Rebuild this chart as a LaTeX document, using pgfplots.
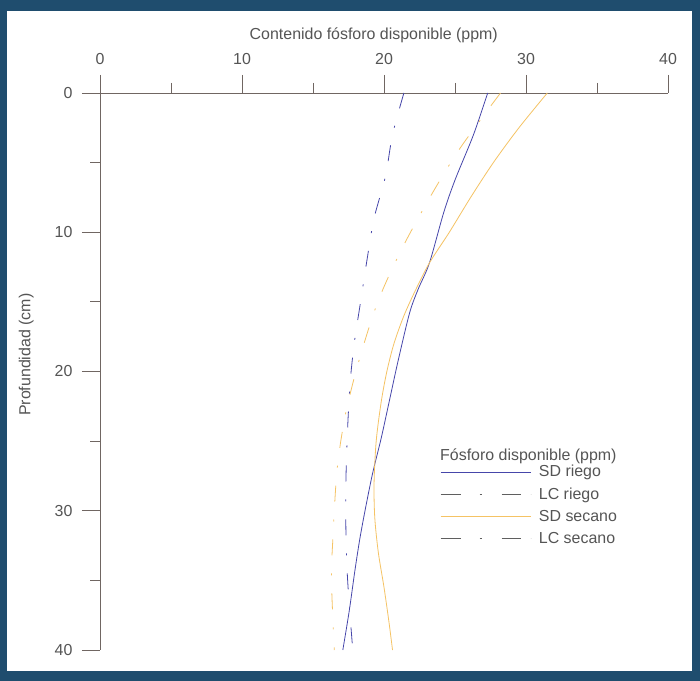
\documentclass[border=0pt]{standalone}
\usepackage{fontspec}
\setmainfont{Liberation Sans}
\usepackage{pgfplots}
\pgfplotsset{compat=1.18}

\definecolor{bgblue}{RGB}{31,77,110}
\definecolor{axisgray}{RGB}{112,102,98}
\definecolor{txtgray}{RGB}{85,85,85}
\definecolor{sdblue}{RGB}{70,70,170}
\definecolor{sdorange}{RGB}{245,195,100}
\definecolor{leggray}{RGB}{95,95,95}

\tikzset{dashdot/.style={dash pattern=on 16bp off 18bp on 2bp off 18bp},
  legdashdot/.style={dash pattern=on 20bp off 19bp on 2bp off 20bp on 19bp off 10bp}}
\newcommand\chartfont{\fontsize{16}{19}\selectfont}

\begin{document}
\begin{tikzpicture}[x=1bp,y=1bp]
\fill[bgblue] (0,0) rectangle (700,681);
\fill[white] (7,10) rectangle (692,670);
\begin{axis}[
  at={(100bp,31bp)}, anchor=south west,
  scale only axis, width=568bp, height=557bp,
  xmin=0, xmax=40, ymin=0, ymax=40,
  y dir=reverse,
  axis x line=top, axis y line=left,
  axis line style={-, draw=axisgray, line width=0.8bp},
  xtick={0,10,20,30,40}, minor xtick={5,15,25,35},
  ytick={0,10,20,30,40}, minor ytick={5,15,25,35},
  tick align=outside,
  major tick length=18bp, minor tick length=10bp,
  tick style={draw=axisgray, line width=0.8bp},
  /pgf/number format/assume math mode=true,
  ticklabel style={font=\chartfont, text=txtgray},
  xticklabel style={yshift=7bp},
  yticklabel style={xshift=-6bp},
  xlabel={Contenido fósforo disponible (ppm)},
  ylabel={Profundidad (cm)},
  label style={font=\chartfont, text=txtgray},
  xlabel style={at={(axis description cs:0.482,1)}, anchor=base, yshift=53bp},
  ylabel style={at={(axis description cs:-0.13,0.53)}, anchor=center},
  legend style={at={(axis cs:23.94,26.7)}, anchor=north west, draw=none, fill=none,
    font=\chartfont, text=txtgray,
    row sep=6.3bp, column sep=8bp, inner sep=0pt,
    nodes={inner sep=0pt, text height=12bp, text depth=4bp, anchor=base west}},
  legend cell align=left,
  legend image code/.code={\draw[#1] (0bp,5bp) -- (90bp,5bp);},
]
\addplot[sdblue, line width=0.8bp, smooth, forget plot] coordinates {
  (27.3,0) (26.3,3) (25.0,6.25) (24.2,8.6) (23.2,12.2) (22.4,14.1) (21.8,15.8)
  (21.0,19.2) (20.4,22) (19.8,24.8) (19.2,27.3) (18.7,29.8)
  (18.3,32) (17.95,34.3) (17.55,37.2) (17.1,40)};
\addplot[sdblue, line width=0.8bp, dashdot, smooth, forget plot] coordinates {
  (21.4,0) (20.6,3) (20.1,6) (19.3,9) (18.8,12) (18.35,15) (17.9,18) (17.6,21)
  (17.4,25) (17.3,29) (17.35,33) (17.5,36) (17.8,40)};
\addplot[sdorange, line width=0.8bp, smooth, forget plot] coordinates {
  (31.5,0) (29.5,2.5) (27.7,5) (26.1,7.5) (24.6,10) (23.2,12.2) (22.2,14.2)
  (21.4,16) (20.7,18) (20.2,20) (19.8,22.2) (19.45,25) (19.3,28) (19.35,30.5)
  (19.6,33) (20.0,35.5) (20.35,38) (20.6,40)};
\addplot[sdorange, line width=0.8bp, dashdot, smooth, forget plot] coordinates {
  (28.2,0) (25.4,3.9) (23.4,7.2) (21.3,11.1) (19.6,14.9) (18.3,19) (17.3,23)
  (16.7,27) (16.4,32) (16.3,35) (16.5,40)};

\addlegendimage{sdblue, line width=0.8bp}
\addlegendentry{SD riego}
\addlegendimage{leggray, line width=0.8bp, legdashdot}
\addlegendentry{LC riego}
\addlegendimage{sdorange, line width=0.8bp}
\addlegendentry{SD secano}
\addlegendimage{leggray, line width=0.8bp, legdashdot}
\addlegendentry{LC secano}
\end{axis}
\node[anchor=base west, font=\chartfont, text=txtgray, inner sep=0pt]
  at (440,220) {Fósforo disponible (ppm)};
\end{tikzpicture}
\end{document}
